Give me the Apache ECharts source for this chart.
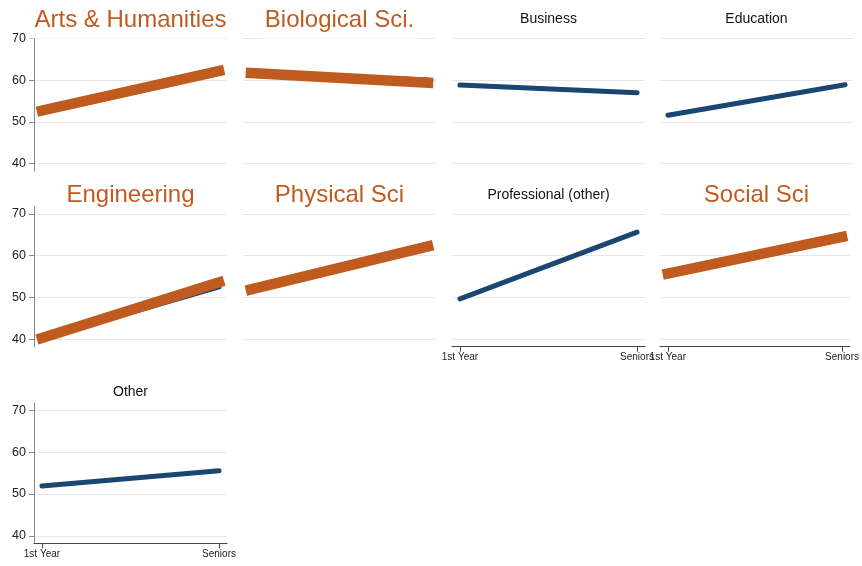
<!DOCTYPE html>
<html>
<head>
<meta charset="utf-8">
<script src="https://cdn.jsdelivr.net/npm/echarts@6/dist/echarts.min.js"></script>
<style>
html,body{margin:0;padding:0;background:#fff;}
#chart{width:862px;height:566px;}
</style>
</head>
<body>
<div id="chart"></div>
<script>
const categories = ['1st Year', 'Seniors'];
const fields = ['Arts & Humanities', 'Biological Sci.', 'Business', 'Education', 'Engineering', 'Physical Sci', 'Professional (other)', 'Social Sci', 'Other'];
const allFirstYear = [52.7, 61.6, 58.8, 51.6, 40.2, 51.9, 49.65, 55.7, 51.9];
const allSeniors   = [62.2, 60.0, 56.95, 58.9, 52.5, 62.2, 65.6, 64.45, 55.55];
const stemFirstYear = [52.7, 61.7, null, null, 40.3, 51.9, null, 55.7, null];
const stemSeniors   = [62.2, 59.4, null, null, 53.6, 62.2, null, 64.45, null];
const yTicks = [40, 50, 60, 70];

const BLUE = '#1a476f';
const ORANGE = '#bf5b1f';
const colLeft = [34, 243, 452, 660];
const rowTop = [31.2, 206.7, 403.3];
const W = 193, H = 140;
const titleY = [[20.5, 19.2], [195.8, 195.6], [392.3, 392.3]];
const xAxisShown = [6, 7, 8];

const grids = [], xAxes = [], yAxes = [], series = [], graphics = [];
fields.forEach((name, i) => {
  const row = Math.floor(i / 4), col = i % 4;
  const hi = stemFirstYear[i] !== null;
  grids.push({left: colLeft[col], top: rowTop[row], width: W, height: H});
  const showX = xAxisShown.includes(i);
  xAxes.push({
    gridIndex: i, type: 'value', min: -0.045, max: 1.045,
    axisLine: {show: showX, onZero: false, lineStyle: {color: '#444', width: 1}},
    axisTick: {show: showX, length: 5, customValues: [0, 1], lineStyle: {color: '#444'}},
    axisLabel: {show: showX, customValues: [0, 1], fontSize: 10, color: '#222', margin: 6,
      fontFamily: 'Liberation Sans', formatter: v => categories[Math.round(v)]},
    splitLine: {show: false}
  });
  const showY = col === 0;
  yAxes.push({
    gridIndex: i, type: 'value', min: 38.2, max: 71.7,
    axisLine: {show: showY, onZero: false, lineStyle: {color: '#888', width: 1}},
    axisTick: {show: showY, length: 5, customValues: yTicks, lineStyle: {color: '#888'}},
    axisLabel: {show: showY, customValues: yTicks, fontSize: 12.5, color: '#222', margin: 8,
      fontFamily: 'Liberation Sans'},
    splitLine: {show: true, lineStyle: {color: '#e6e6e6', width: 1}}
  });
  series.push({
    type: 'line', xAxisIndex: i, yAxisIndex: i, showSymbol: false, silent: true,
    data: [[0, allFirstYear[i]], [1, allSeniors[i]]],
    lineStyle: {color: BLUE, width: 5, cap: 'round'}, z: 2, animation: false
  });
  if (hi) {
    series.push({
      type: 'line', xAxisIndex: i, yAxisIndex: i, showSymbol: false, silent: true,
      data: [[0, stemFirstYear[i]], [1, stemSeniors[i]]],
      lineStyle: {color: ORANGE, width: 10.5, cap: 'square'}, z: 3, animation: false
    });
  }
  graphics.push({
    type: 'text', z: 100,
    x: colLeft[col] + W / 2, y: titleY[row][hi ? 0 : 1],
    style: {
      text: name, align: 'center', verticalAlign: 'middle',
      fontFamily: 'Liberation Sans', fontSize: hi ? 24 : 14,
      fill: hi ? ORANGE : '#111',
      backgroundColor: hi ? '#fff' : null, padding: hi ? [4, 6, 8, 6] : 0
    }
  });
});

const chart = echarts.init(document.getElementById('chart'), null, {renderer: 'canvas'});
chart.setOption({
  animation: false,
  grid: grids, xAxis: xAxes, yAxis: yAxes, series: series,
  graphic: {elements: graphics}
});
</script>
</body>
</html>
